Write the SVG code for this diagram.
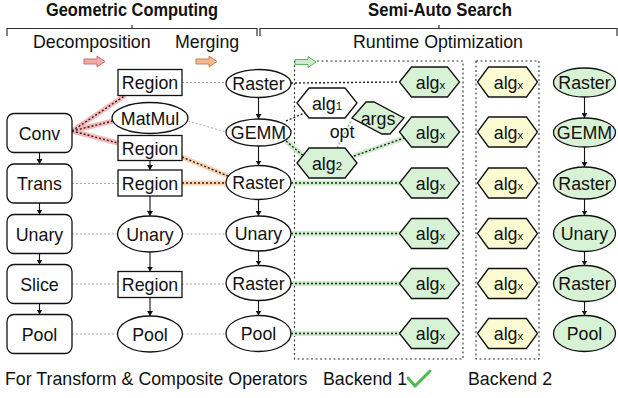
<svg xmlns="http://www.w3.org/2000/svg" width="618" height="398" viewBox="0 0 618 398">
<defs>
<marker id="ah" markerUnits="userSpaceOnUse" markerWidth="6" markerHeight="6" refX="5" refY="3" orient="auto">
<path d="M0,0 L5,3 L0,6 Z" fill="#111"/>
</marker>
<path id="blk" d="M0,3 H13 V0 L21,5.5 L13,11 V8 H0 Z"/>
</defs>
<style>
text{font-family:"Liberation Sans",Arial,sans-serif;font-size:17.8px;fill:#111}
.t{text-anchor:middle}
.b{font-weight:bold;font-size:18.5px}
.sub{font-size:11.5px}
.nd{fill:#fff;stroke:#111;stroke-width:1.3}
.gn{fill:#d7f2d5;stroke:#111;stroke-width:1.3}
.yl{fill:#fdfbd2;stroke:#111;stroke-width:1.3}
.ar{stroke:#111;stroke-width:1.1;fill:none;marker-end:url(#ah)}
.gr{stroke:#aaa;stroke-width:1;stroke-dasharray:2 2;fill:none}
.dk{stroke:#222;stroke-width:1.4;stroke-dasharray:2 2;fill:none}
.hp{stroke:#f7b6b6;stroke-width:5;fill:none}
.ho{stroke:#fbcfae;stroke-width:5;fill:none}
.hg{stroke:#caedc8;stroke-width:5;fill:none}
.bx{stroke:#333;stroke-width:1.1;stroke-dasharray:2 2.5;fill:none}
.br{stroke:#333;stroke-width:1.2;fill:none}
</style>

<g id="headers">
<text class="b" x="46" y="16" textLength="172" lengthAdjust="spacingAndGlyphs">Geometric Computing</text>
<text class="b" x="368" y="16" textLength="144" lengthAdjust="spacingAndGlyphs">Semi-Auto Search</text>
<path class="br" d="M7,36 V28.5 H257 V36 M132,28.5 V25 M260,36 V28.5 H617 V36 M439,28.5 V25"/>
<text x="33" y="48">Decomposition</text>
<text x="175" y="48">Merging</text>
<text class="t" x="438" y="48">Runtime Optimization</text>
</g>

<g id="backends">
<rect class="bx" x="294.5" y="61" width="168.5" height="298"/>
<rect class="bx" x="476" y="61" width="63" height="298"/>
</g>

<g id="phase-arrows">
<use href="#blk" transform="translate(84,56)" fill="#f5a9a9" stroke="#b66" stroke-width="0.9"/>
<use href="#blk" transform="translate(196,56)" fill="#fab88e" stroke="#b87a4f" stroke-width="0.9"/>
<use href="#blk" transform="translate(295,56.5)" fill="#cdeccb" stroke="#5a5" stroke-width="0.9"/>
</g>

<g id="connectors">
<path class="hp" d="M72,131 L125,95.5 M72,131 L113,121 M72,131 L118,143"/>
<path class="dk" d="M72,131 L125,95.5 M72,131 L113,121 M72,131 L118,143"/>
<path class="ho" d="M182,157 L228,176 M182,183 L226,183"/>
<path class="dk" d="M182,157 L228,176 M182,183 L226,183"/>
<path class="hg" d="M286,141 L303,155.5 M354,156 L404,138 M291,183 L399.5,183 M291,233.5 L399.5,233.5 M291,283.5 L399.5,283.5 M291,333.5 L399.5,333.5"/>
<path class="dk" d="M286,141 L303,155.5 M354,156 L404,138 M291,183 L399.5,183 M291,233.5 L399.5,233.5 M291,283.5 L399.5,283.5 M291,333.5 L399.5,333.5"/>
<path class="dk" d="M291,83 L399.5,82 M286,121 L309,111"/>
<path d="M337,148 L351,121" stroke="#8fcf8c" stroke-width="1.6" stroke-dasharray="2 2" fill="none"/>
<path class="gr" d="M72,183.5 H118 M72,234 H117.5 M72,284 H118 M72,334 H117.5 M182,82.5 H226 M188,121 L226,132 M182.5,234 H226 M182,284 H226 M182.5,334 H226"/>
<path class="ar" d="M39.5,152.5 V164"/>
<path class="ar" d="M39.5,203 V214.5"/>
<path class="ar" d="M39.5,253.5 V264.5"/>
<path class="ar" d="M39.5,303.5 V314.5"/>
<path class="ar" d="M150,160.5 V170"/>
<path class="ar" d="M150,196 V216"/>
<path class="ar" d="M150,252 V271.5"/>
<path class="ar" d="M150,297.5 V316"/>
<path class="ar" d="M258.5,97.5 V119"/>
<path class="ar" d="M258.5,146 V165.5"/>
<path class="ar" d="M258.5,199.5 V216"/>
<path class="ar" d="M258.5,251 V265.5"/>
<path class="ar" d="M258.5,300.5 V315.5"/>
<path class="ar" d="M584.5,97 V118"/>
<path class="ar" d="M584.5,147 V167"/>
<path class="ar" d="M584.5,199 V215.5"/>
<path class="ar" d="M584.5,251.5 V265.5"/>
<path class="ar" d="M584.5,301.5 V315.5"/>
</g>

<g id="conv"><rect class="nd" x="7" y="113.5" width="65" height="39" rx="7"/><text class="t" x="39.5" y="139.5">Conv</text></g>
<g id="trans"><rect class="nd" x="7" y="164" width="65" height="39" rx="7"/><text class="t" x="39.5" y="190">Trans</text></g>
<g id="unary-op"><rect class="nd" x="7" y="214.5" width="65" height="39" rx="7"/><text class="t" x="39.5" y="240.5">Unary</text></g>
<g id="slice"><rect class="nd" x="7" y="264.5" width="65" height="39" rx="7"/><text class="t" x="39.5" y="290.5">Slice</text></g>
<g id="pool-op"><rect class="nd" x="7" y="314.5" width="65" height="39" rx="7"/><text class="t" x="39.5" y="340.5">Pool</text></g>

<g id="region1"><rect class="nd" x="118" y="69.5" width="64" height="26"/><text class="t" x="150" y="89">Region</text></g>
<g id="matmul"><ellipse class="nd" cx="150" cy="118" rx="38" ry="15.5"/><text class="t" x="150" y="124.5">MatMul</text></g>
<g id="region2"><rect class="nd" x="118" y="135.5" width="64" height="25"/><text class="t" x="150" y="154.5">Region</text></g>
<g id="region3"><rect class="nd" x="118" y="170" width="64" height="26"/><text class="t" x="150" y="189.5">Region</text></g>
<g id="unary-mid"><ellipse class="nd" cx="150" cy="234" rx="32.5" ry="18"/><text class="t" x="150" y="240.5">Unary</text></g>
<g id="region5"><rect class="nd" x="118" y="271.5" width="64" height="26"/><text class="t" x="150" y="291">Region</text></g>
<g id="pool-mid"><ellipse class="nd" cx="150" cy="334" rx="32.5" ry="18"/><text class="t" x="150" y="340.5">Pool</text></g>

<g id="raster1"><ellipse class="nd" cx="258.5" cy="83.5" rx="32.5" ry="14"/><text class="t" x="258.5" y="90">Raster</text></g>
<g id="gemm"><ellipse class="nd" cx="258.5" cy="132.5" rx="32.5" ry="13.5"/><text class="t" x="258.5" y="139">GEMM</text></g>
<g id="raster3"><ellipse class="nd" cx="258.5" cy="182.5" rx="32.5" ry="17"/><text class="t" x="258.5" y="189">Raster</text></g>
<g id="unary-r"><ellipse class="nd" cx="258.5" cy="233.5" rx="32.5" ry="17.5"/><text class="t" x="258.5" y="240">Unary</text></g>
<g id="raster5"><ellipse class="nd" cx="258.5" cy="283" rx="32.5" ry="17.5"/><text class="t" x="258.5" y="289.5">Raster</text></g>
<g id="pool-r"><ellipse class="nd" cx="258.5" cy="333.5" rx="32.5" ry="18"/><text class="t" x="258.5" y="340">Pool</text></g>

<g id="alg1"><polygon class="nd" points="297,103 309,88 345,88 357,103 345,118 309,118"/><text class="t" x="327" y="109.5">alg<tspan class="sub">1</tspan></text></g>
<g id="alg2"><polygon class="gn" points="297,163 309,148 345,148 357,163 345,178 309,178"/><text class="t" x="327" y="169.5">alg<tspan class="sub">2</tspan></text></g>
<g id="args"><polygon class="gn" points="352,118 366,102 374,102 404,118 390,134 382,134"/><text class="t" x="378" y="124.5">args</text></g>
<g id="opt"><text class="t" x="342" y="138">opt</text></g>

<g id="b1-algs">
<g id="b1-alg-1"><polygon class="gn" points="399.5,82 411.5,67 447.5,67 459.5,82 447.5,97 411.5,97"/><text class="t" x="430.5" y="88.5">alg<tspan class="sub">x</tspan></text></g>
<g id="b1-alg-2"><polygon class="gn" points="399.5,132 411.5,117 447.5,117 459.5,132 447.5,147 411.5,147"/><text class="t" x="430.5" y="138.5">alg<tspan class="sub">x</tspan></text></g>
<g id="b1-alg-3"><polygon class="gn" points="399.5,183 411.5,168 447.5,168 459.5,183 447.5,198 411.5,198"/><text class="t" x="430.5" y="189.5">alg<tspan class="sub">x</tspan></text></g>
<g id="b1-alg-4"><polygon class="gn" points="399.5,233.5 411.5,218.5 447.5,218.5 459.5,233.5 447.5,248.5 411.5,248.5"/><text class="t" x="430.5" y="240">alg<tspan class="sub">x</tspan></text></g>
<g id="b1-alg-5"><polygon class="gn" points="399.5,283.5 411.5,268.5 447.5,268.5 459.5,283.5 447.5,298.5 411.5,298.5"/><text class="t" x="430.5" y="290">alg<tspan class="sub">x</tspan></text></g>
<g id="b1-alg-6"><polygon class="gn" points="399.5,333.5 411.5,318.5 447.5,318.5 459.5,333.5 447.5,348.5 411.5,348.5"/><text class="t" x="430.5" y="340">alg<tspan class="sub">x</tspan></text></g>
</g>

<g id="b2-algs">
<g id="b2-alg-1"><polygon class="yl" points="477.5,82 488.5,67 526.5,67 537.5,82 526.5,97 488.5,97"/><text class="t" x="508.5" y="88.5">alg<tspan class="sub">x</tspan></text></g>
<g id="b2-alg-2"><polygon class="yl" points="477.5,132 488.5,117 526.5,117 537.5,132 526.5,147 488.5,147"/><text class="t" x="508.5" y="138.5">alg<tspan class="sub">x</tspan></text></g>
<g id="b2-alg-3"><polygon class="yl" points="477.5,183 488.5,168 526.5,168 537.5,183 526.5,198 488.5,198"/><text class="t" x="508.5" y="189.5">alg<tspan class="sub">x</tspan></text></g>
<g id="b2-alg-4"><polygon class="yl" points="477.5,233.5 488.5,218.5 526.5,218.5 537.5,233.5 526.5,248.5 488.5,248.5"/><text class="t" x="508.5" y="240">alg<tspan class="sub">x</tspan></text></g>
<g id="b2-alg-5"><polygon class="yl" points="477.5,283.5 488.5,268.5 526.5,268.5 537.5,283.5 526.5,298.5 488.5,298.5"/><text class="t" x="508.5" y="290">alg<tspan class="sub">x</tspan></text></g>
<g id="b2-alg-6"><polygon class="yl" points="477.5,333.5 488.5,318.5 526.5,318.5 537.5,333.5 526.5,348.5 488.5,348.5"/><text class="t" x="508.5" y="340">alg<tspan class="sub">x</tspan></text></g>
</g>

<g id="g-raster1"><ellipse class="gn" cx="584.5" cy="82.5" rx="31" ry="14.5"/><text class="t" x="584.5" y="89">Raster</text></g>
<g id="g-gemm"><ellipse class="gn" cx="584.5" cy="132.5" rx="31" ry="14.5"/><text class="t" x="584.5" y="139">GEMM</text></g>
<g id="g-raster3"><ellipse class="gn" cx="584.5" cy="183" rx="31" ry="16"/><text class="t" x="584.5" y="189.5">Raster</text></g>
<g id="g-unary"><ellipse class="gn" cx="584.5" cy="233.5" rx="31" ry="18"/><text class="t" x="584.5" y="240">Unary</text></g>
<g id="g-raster5"><ellipse class="gn" cx="584.5" cy="283.5" rx="31" ry="18"/><text class="t" x="584.5" y="290">Raster</text></g>
<g id="g-pool"><ellipse class="gn" cx="584.5" cy="333.5" rx="31" ry="18"/><text class="t" x="584.5" y="340">Pool</text></g>

<g id="footer">
<text x="5" y="385">For Transform &amp; Composite Operators</text>
<text x="323" y="385">Backend 1</text>
<polyline points="408,378 415,386 430,371" fill="none" stroke="#4cbb4c" stroke-width="3" stroke-linecap="round" stroke-linejoin="round"/>
<text x="468" y="385">Backend 2</text>
</g>
</svg>
